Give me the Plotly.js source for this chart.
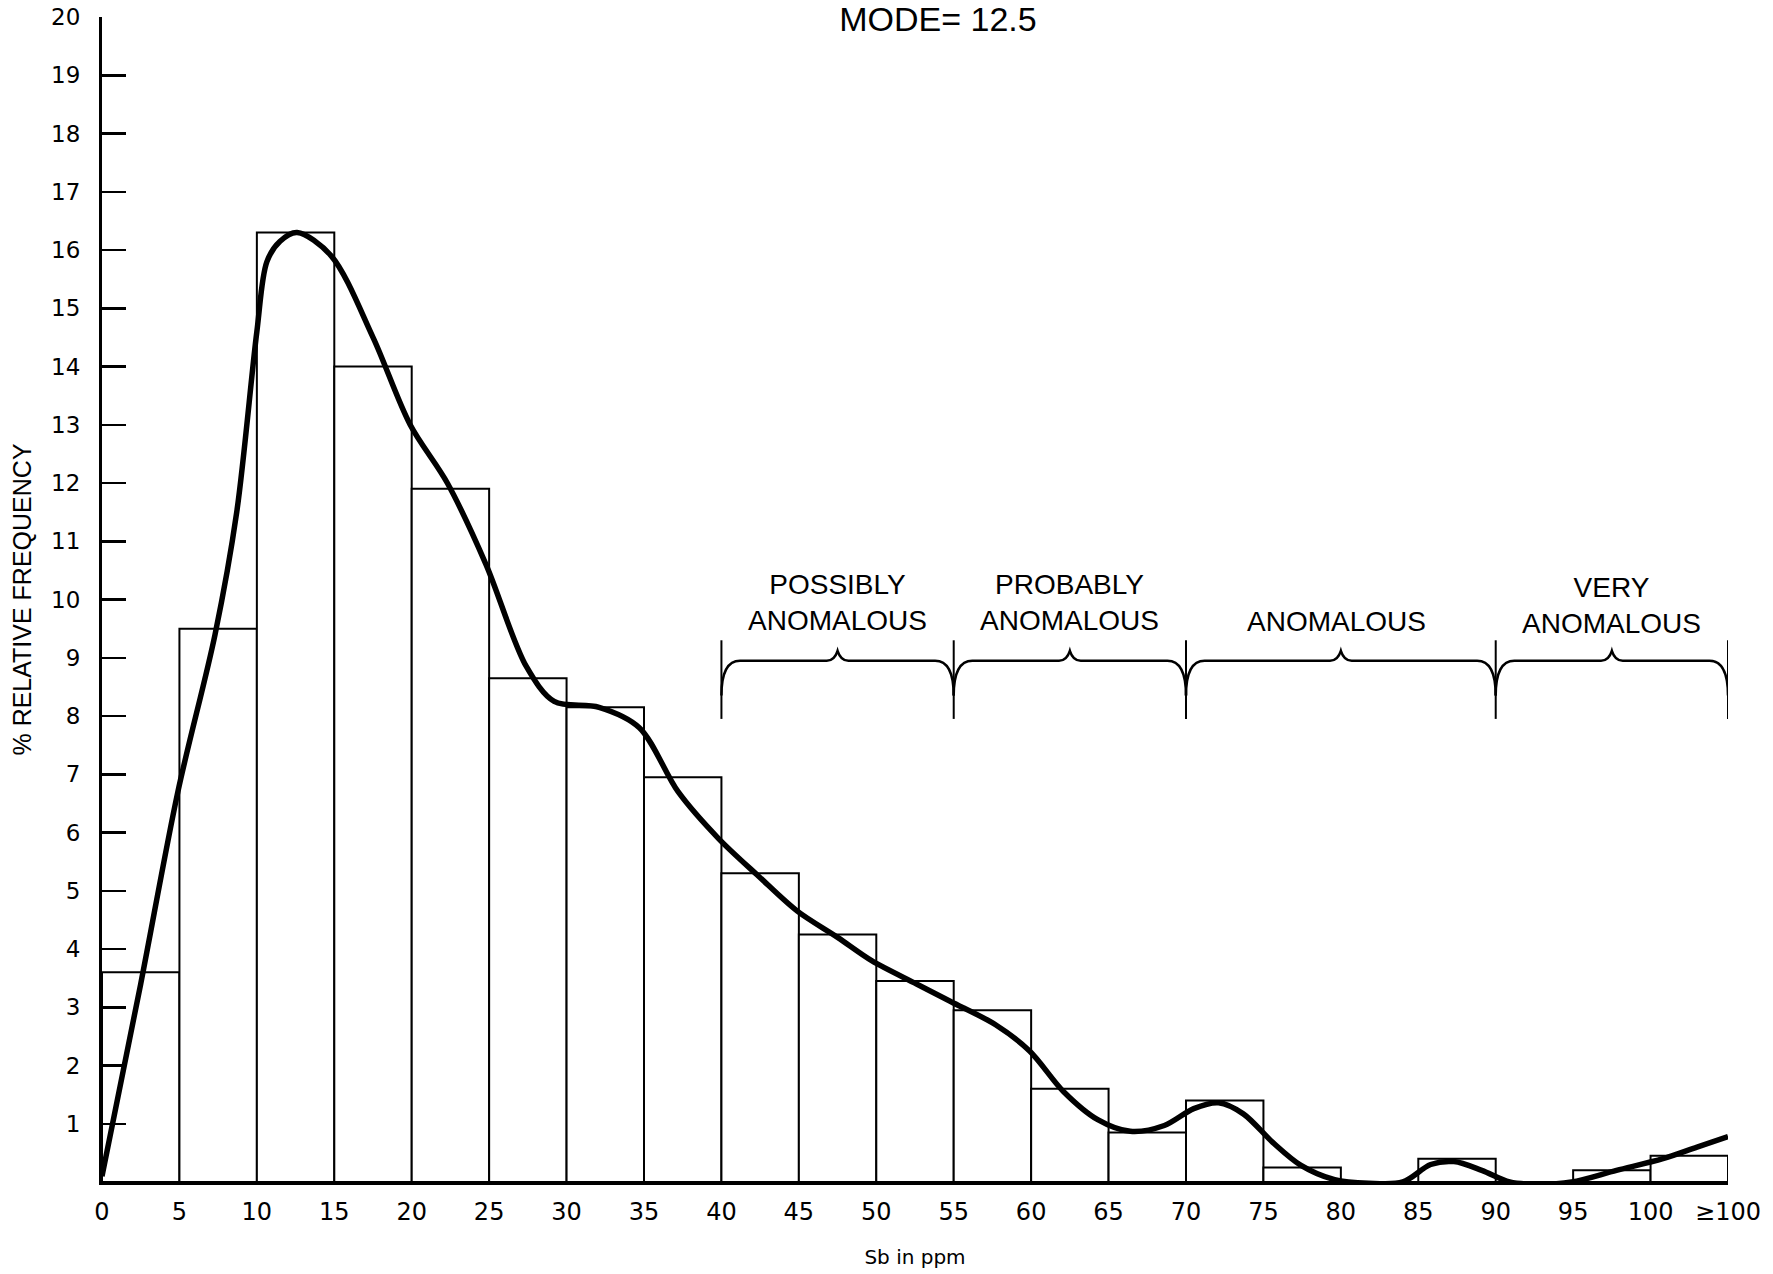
<!DOCTYPE html>
<html>
<head>
<meta charset="utf-8">
<script src="https://cdn.plot.ly/plotly-3.0.1.min.js"></script>
<style>html,body{margin:0;padding:0;background:#fff;}#chart{width:1773px;height:1274px;}</style>
</head>
<body>
<div id="chart"></div>
<script>
// Histogram bins (lower edges, ppm Sb) and % relative frequency
const binStart = [0,5,10,15,20,25,30,35,40,45,50,55,60,65,70,75,80,85,90,95,100];
const binWidth = 5;
const relFreq = [3.6,9.5,16.3,14.0,11.9,8.65,8.15,6.95,5.3,4.25,3.45,2.95,1.6,0.85,1.4,0.25,0,0.4,0,0.2,0.45];

// Smoothed frequency curve
const curveX = [0,2.5,4.9,7.3,8.7,10,10.65,11.5,12.6,14.8,17.5,19.9,22.3,24.8,27.4,29.2,32.1,34.7,37.2,39.8,42.4,44.9,47.5,49.7,52.6,54.8,57.7,59.9,62.1,64.3,66.4,68.6,70.5,72.1,73.7,75.6,77.4,79.6,81.8,84,85.8,87.3,89.1,90.9,92.7,94.9,97.8,100.8,103,105];
const curveY = [0.1,3.4,6.7,9.4,11.5,14.6,15.8,16.15,16.3,15.9,14.5,13.0,12.0,10.6,8.85,8.25,8.15,7.8,6.7,5.9,5.25,4.65,4.2,3.8,3.4,3.1,2.7,2.25,1.55,1.07,0.87,0.97,1.26,1.36,1.17,0.68,0.29,0.04,-0.02,0.0,0.3,0.35,0.2,0.0,-0.04,0.0,0.2,0.4,0.6,0.78];

// Axis tick labels
const xTickVals = [0,5,10,15,20,25,30,35,40,45,50,55,60,65,70,75,80,85,90,95,100,105];
const xTickText = ["0","5","10","15","20","25","30","35","40","45","50","55","60","65","70","75","80","85","90","95","100","≥100"];
const yTickVals = [1,2,3,4,5,6,7,8,9,10,11,12,13,14,15,16,17,18,19,20];

// Anomaly classes
const classBounds = [40,55,70,90,105];
const classLabels = ["POSSIBLY<br>ANOMALOUS","PROBABLY<br>ANOMALOUS","ANOMALOUS","VERY<br>ANOMALOUS"];

const binCenters = binStart.map(b => b + binWidth/2);
const FONT = "Liberation Sans, Arial, sans-serif";
const TICKFONT = "DejaVu Sans, sans-serif";

const traces = [
  {
    type: 'bar', x: binCenters, y: relFreq, width: binWidth,
    marker: {color: '#ffffff', line: {color: '#000', width: 2}},
    hoverinfo: 'x+y', showlegend: false
  },
  {
    type: 'scatter', mode: 'lines', x: curveX, y: curveY,
    line: {color: '#000', width: 5.5, shape: 'spline', smoothing: 0.9},
    showlegend: false, cliponaxis: false
  }
];

// brace shapes
const shapes = [];
const yBot = 7.95, yTop = 9.3, yBr = 8.95, yTip = 9.12, yEnd = 8.35;
classBounds.forEach(b => {
  shapes.push({type:'line', xref:'x', yref:'y', x0:b, x1:b, y0:yBot, y1:yTop, line:{color:'#000', width:2}});
});
for (let i = 0; i < classBounds.length - 1; i++) {
  const a = classBounds[i], c = classBounds[i+1], m = (a + c) / 2;
  const p = `M ${a} ${yEnd} Q ${a} ${yBr} ${a+1.2} ${yBr} L ${m-0.7} ${yBr} Q ${m-0.2} ${yBr} ${m} ${yTip} Q ${m+0.2} ${yBr} ${m+0.7} ${yBr} L ${c-1.2} ${yBr} Q ${c} ${yBr} ${c} ${yEnd}`;
  shapes.push({type:'path', xref:'x', yref:'y', path:p, line:{color:'#000', width:2.5}});
}

const annotations = [];
const labelY = [9.95, 9.95, 9.62, 9.9];
for (let i = 0; i < classLabels.length; i++) {
  annotations.push({
    x: (classBounds[i] + classBounds[i+1]) / 2 + (i===2 ? -0.3 : 0), y: labelY[i], xref:'x', yref:'y',
    text: classLabels[i], showarrow:false, yanchor:'middle',
    font:{family:FONT, size:28, color:'#000'}, align:'center'
  });
}

const layout = {
  width: 1773, height: 1274,
  margin: {l: 102, r: 45, t: 17, b: 92},
  paper_bgcolor: '#fff', plot_bgcolor: '#fff',
  title: {text: 'MODE= 12.5', x: 0.529, xanchor: 'center', y: 0.985, yanchor: 'middle',
          font: {family: FONT, size: 34, color: '#000'}},
  xaxis: {
    range: [0, 105], showgrid: false, zeroline: false,
    showline: true, linecolor: '#000', linewidth: 3,
    tickmode: 'array', tickvals: xTickVals, ticktext: xTickText,
    ticks: '', ticklabelstandoff: 6,
    tickfont: {family: TICKFONT, size: 24, color: '#000'},
    title: {text: 'Sb in ppm', font: {family: TICKFONT, size: 20, color: '#000'}, standoff: 26}
  },
  yaxis: {
    range: [0, 20], showgrid: false, zeroline: false,
    showline: true, linecolor: '#000', linewidth: 3,
    tickmode: 'array', tickvals: yTickVals,
    ticks: 'inside', ticklen: 24, tickwidth: 2.5, tickcolor: '#000',
    ticklabelstandoff: 14,
    tickfont: {family: TICKFONT, size: 23, color: '#000'},
    title: {text: '% RELATIVE FREQUENCY', font: {family: FONT, size: 25, color: '#000'}, standoff: 13}
  },
  bargap: 0,
  shapes: shapes,
  annotations: annotations
};

Plotly.newPlot('chart', traces, layout, {displayModeBar: false, staticPlot: true});
</script>
</body>
</html>
